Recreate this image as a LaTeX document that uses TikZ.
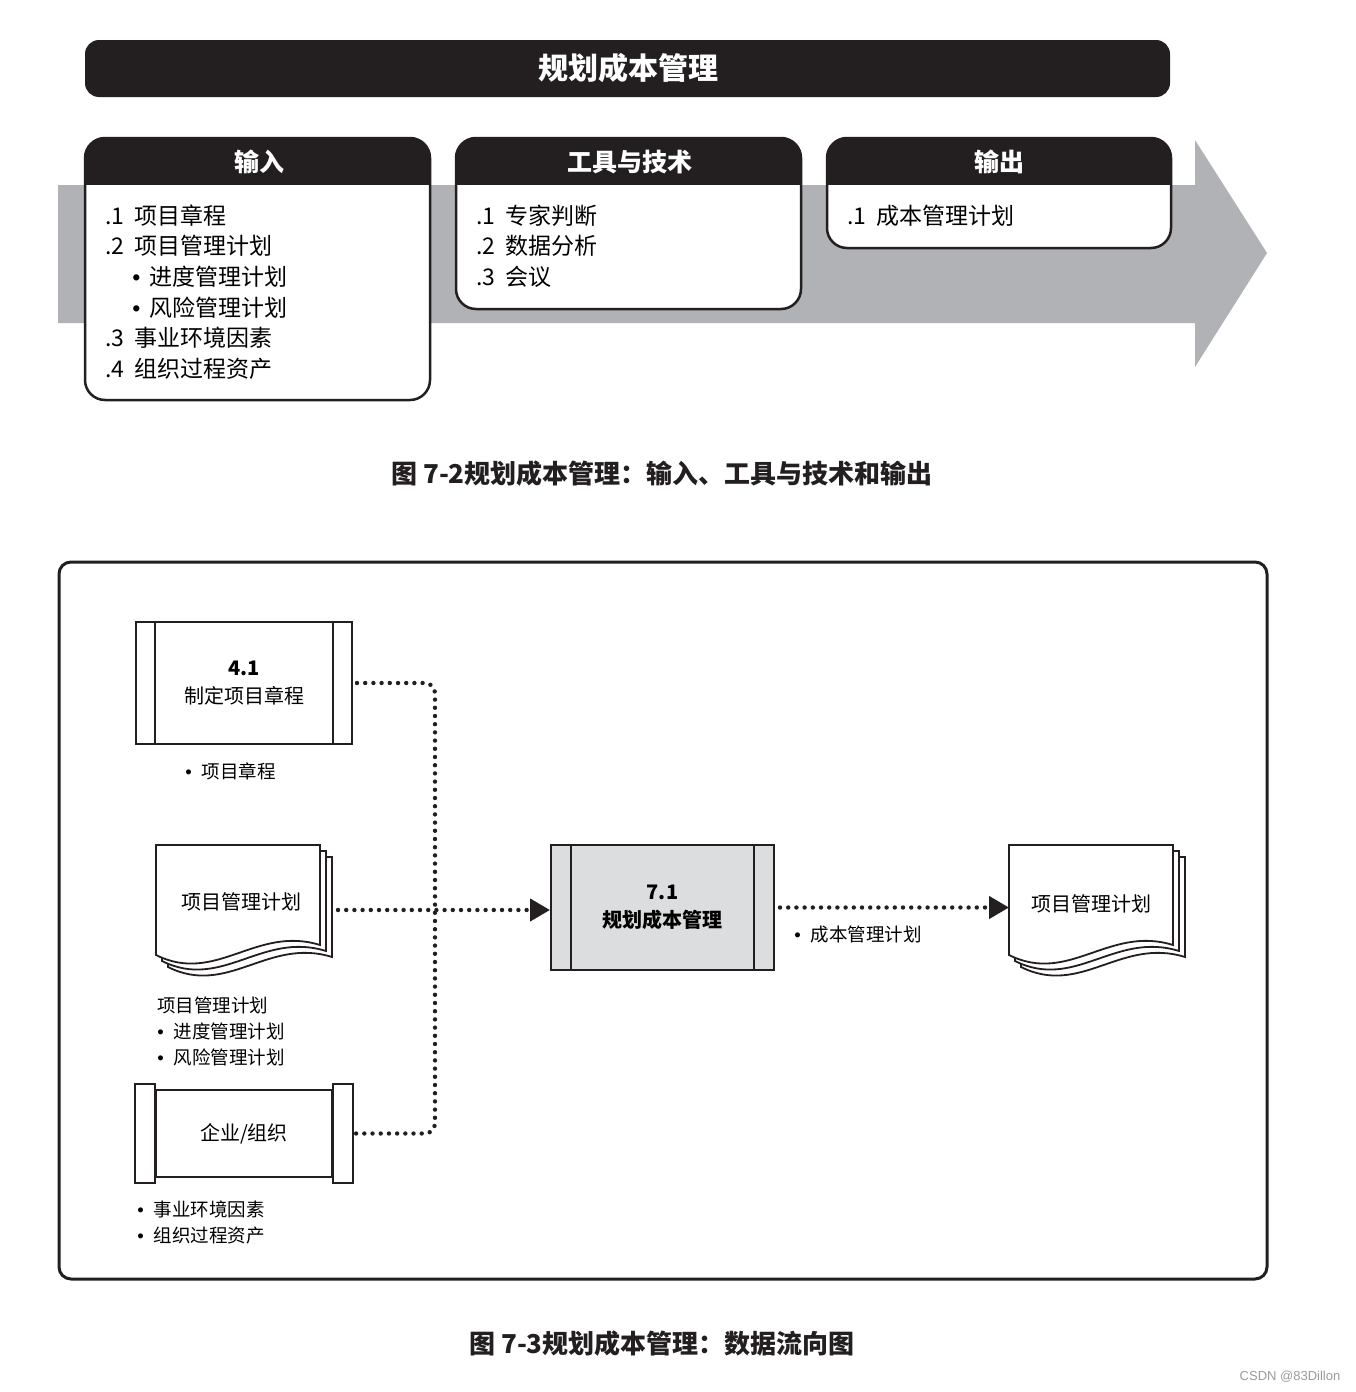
\documentclass[tikz,border=0pt]{standalone}
\usepackage{fontspec}
\setmainfont{Noto Sans CJK SC}
\newfontfamily\latinfont{Liberation Sans}
\newcommand\itemdot{{\latinfont\textbullet}}
\usetikzlibrary{arrows.meta}
\definecolor{inkblack}{HTML}{231F20}
\definecolor{bandgray}{HTML}{B1B2B5}
\definecolor{procgray}{HTML}{DCDDDF}
\definecolor{markgray}{HTML}{9A9A9A}
\tikzset{
  boxline/.style={line width=1.25pt, draw=inkblack},
  headtext/.style={text=white, font=\fontsize{12.5}{15}\selectfont\bfseries},
  itemlist/.style={anchor=west, align=left, inner sep=0pt, font=\fontsize{11.5}{15.35}\selectfont},
  procbox/.style={draw=inkblack, line width=1pt, align=center, font=\fontsize{10}{14}\selectfont},
  smalltext/.style={anchor=west, align=left, inner sep=0pt, font=\fontsize{9.25}{13}\selectfont},
  docline/.style={draw=inkblack, line width=0.9pt, fill=white},
  flowdots/.style={draw=inkblack, line width=2.2pt, dash pattern=on 0pt off 4.1pt, line cap=round},
  flowtip/.style={-{Triangle[length=10pt,width=11pt]}},
  caption/.style={font=\fontsize{13}{15}\selectfont\bfseries, text=inkblack}
}
\begin{document}
\begin{tikzpicture}[x=0.5pt,y=-0.5pt]
\useasboundingbox (0,0) rectangle (1355,1392);
% upper figure: inputs, tools and outputs
\fill[inkblack, rounded corners=7pt] (85,40) rectangle (1170,97);
\node[text=white, font=\fontsize{15}{18}\selectfont\bfseries] (title) at (628,68) {规划成本管理};
\fill[bandgray] (58,185) -- (1195,185) -- (1195,140) -- (1267,253) -- (1195,367) -- (1195,323) -- (58,323) -- cycle;
\foreach \xl/\xr/\yb in {85/430/400, 456/801/309, 827/1171/248}
{\fill[inkblack, rounded corners=10pt] (\xl,138) rectangle (\xr,\yb);
 \fill[white, rounded corners=10pt] (\xl,185) -- (\xl,\yb) -- (\xr,\yb) -- (\xr,185);
 \draw[boxline, rounded corners=10pt] (\xl,138) rectangle (\xr,\yb);}
\node[headtext] (inhead) at (259,162) {输入};
\node[headtext] (toolhead) at (630,162) {工具与技术};
\node[headtext] (outhead) at (999,162) {输出};
\node[itemlist] (initems) at (105,292) {.1\hspace{5pt}项目章程\\
  .2\hspace{5pt}项目管理计划\\
  \hspace*{13.5pt}\itemdot\hspace{4.5pt}进度管理计划\\
  \hspace*{13.5pt}\itemdot\hspace{4.5pt}风险管理计划\\
  .3\hspace{5pt}事业环境因素\\
  .4\hspace{5pt}组织过程资产};
\node[itemlist] (toolitems) at (476,246) {.1\hspace{5pt}专家判断\\
  .2\hspace{5pt}数据分析\\
  .3\hspace{5pt}会议};
\node[itemlist] (outitems) at (847,216) {.1\hspace{5pt}成本管理计划};
\node[caption] (cap1) at (662,474) {图 7-2规划成本管理：输入、工具与技术和输出};
% lower figure: data flow
\draw[line width=1.5pt, draw=inkblack, rounded corners=6pt] (59,562) rectangle (1267,1279);
\node[procbox, minimum width=108pt, minimum height=61pt] (p41) at (244,683) {\textbf{4.1}\\制定项目章程};
\draw[line width=1pt, draw=inkblack] ([xshift=10pt]p41.north west) -- ([xshift=10pt]p41.south west);
\draw[line width=1pt, draw=inkblack] ([xshift=-10pt]p41.north east) -- ([xshift=-10pt]p41.south east);
\node[smalltext] (lbl41) at (185,771) {\itemdot\hspace{5pt}项目章程};
\foreach \dx in {156, 1009}
{\foreach \d in {12,6,0}
 {\draw[docline] (\dx+\d,845+\d) -- (\dx+164+\d,845+\d) -- (\dx+164+\d,945+\d)
   .. controls (\dx+100+\d,925+\d) and (\dx+60+\d,985+\d) .. (\dx+\d,955+\d) -- cycle;}}
\node[font=\fontsize{10}{12}\selectfont] (pmp) at (241,902) {项目管理计划};
\node[smalltext] (lblpmp) at (157,1031) {项目管理计划\\\itemdot\hspace{5pt}进度管理计划\\\itemdot\hspace{5pt}风险管理计划};
\node[procbox, minimum width=88pt, minimum height=43.5pt, font=\fontsize{10}{12}\selectfont] (org) at (244,1133.5) {企业/组织};
\draw[line width=1pt, draw=inkblack, fill=white] ([xshift=-10pt,yshift=2.5pt]org.north west) rectangle ([yshift=-2.5pt]org.south west);
\draw[line width=1pt, draw=inkblack, fill=white] ([yshift=2.5pt]org.north east) rectangle ([xshift=10pt,yshift=-2.5pt]org.south east);
\node[smalltext] (lblorg) at (137,1222) {\itemdot\hspace{5pt}事业环境因素\\\itemdot\hspace{5pt}组织过程资产};
\node[procbox, fill=procgray, minimum width=111.5pt, minimum height=62.5pt, font=\fontsize{10}{14}\selectfont\bfseries] (p71) at (662.5,907.5) {7.1\\规划成本管理};
\draw[line width=1pt, draw=inkblack] ([xshift=10.5pt]p71.north west) -- ([xshift=10.5pt]p71.south west);
\draw[line width=1pt, draw=inkblack] ([xshift=-10.5pt]p71.north east) -- ([xshift=-10.5pt]p71.south east);
\node[font=\fontsize{10}{12}\selectfont] (cmp) at (1091,904) {项目管理计划};
\node[smalltext] (lblcmp) at (794,934) {\itemdot\hspace{5pt}成本管理计划};
% dotted flows
\coordinate (bus) at (435,910);
\coordinate (pmpR) at (338,910);
\coordinate (cmpL) at (1009,907.5);
\draw[flowdots, rounded corners=5pt] ([xshift=2pt]p41.east) -| (bus) |- ([xshift=11.5pt]org.east);
\draw[flowdots, flowtip] (pmpR) -- (pmpR -| p71.west);
\draw[flowdots, flowtip] ([xshift=2.5pt]p71.east) -- (cmpL);
\node[caption] (cap2) at (662,1344) {图 7-3规划成本管理：数据流向图};
\node[text=markgray, font=\latinfont\fontsize{6.5}{8}\selectfont] (mark) at (1290,1377) {CSDN @83Dillon};
\end{tikzpicture}
\end{document}
